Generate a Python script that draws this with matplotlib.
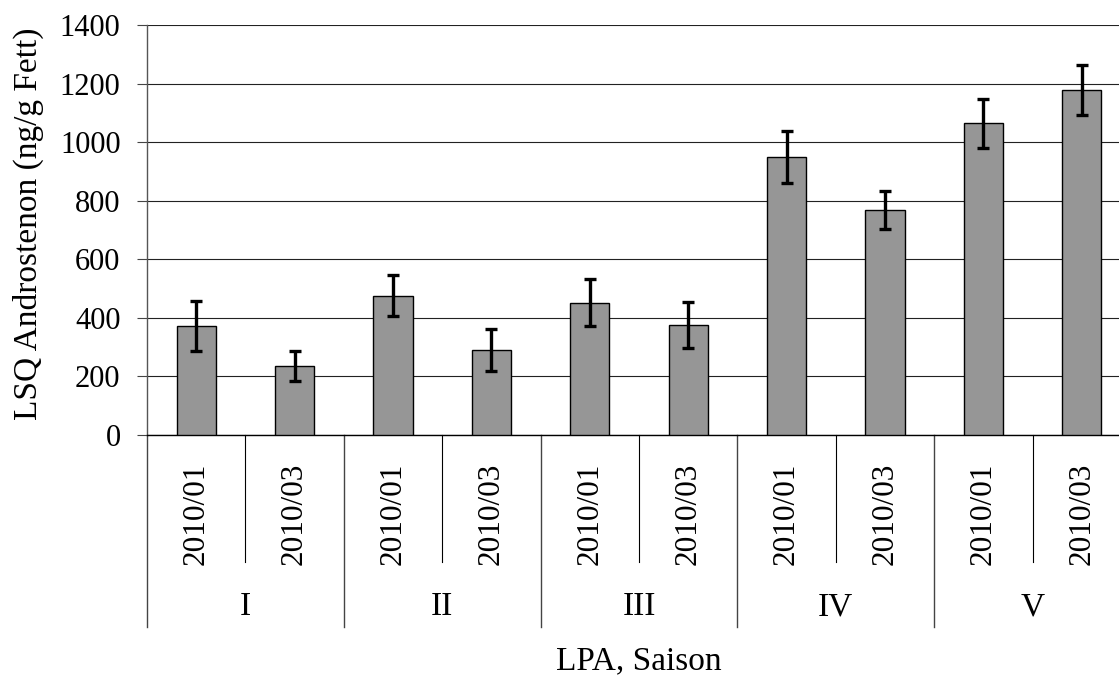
import numpy as np
import matplotlib.pyplot as plt
from matplotlib.transforms import blended_transform_factory

plt.rcParams['font.family'] = ['Liberation Serif', 'DejaVu Serif']

# LSQ values and standard errors per LPA and season
lpa = ["I", "II", "III", "IV", "V"]
saison = ["2010/01", "2010/03"]
lsq = [372, 237, 475, 290, 452, 375, 949, 767, 1064, 1178]
se = [84, 51, 70, 71, 81, 79, 90, 65, 85, 84]

W, H = 1119, 675
fig = plt.figure(figsize=(W / 100, H / 100), dpi=100)
# plot area runs a little past the right edge of the canvas
ax = fig.add_axes([147 / W, (H - 435) / H, 984 / W, 410 / H])

x = np.arange(len(lsq))
ax.bar(x, lsq, width=0.4, color='#969696', edgecolor='black', linewidth=1.0, zorder=3)
ax.errorbar(x, lsq, yerr=se, fmt='none', ecolor='black', elinewidth=2.4,
            capsize=4, capthick=2.4, zorder=4)

ax.set_xlim(-0.5, len(lsq) - 0.5)
ax.set_ylim(0, 1400)
ax.set_yticks(np.arange(0, 1401, 200))
ax.yaxis.grid(True, color='#222222', linewidth=0.8, zorder=0)
ax.tick_params(axis='y', direction='out', length=7, width=0.8, color='#444444',
               labelsize=22, pad=12)
ax.set_xticks([])
for s in ['top', 'right']:
    ax.spines[s].set_visible(False)
ax.spines['left'].set_color('#555555')
ax.spines['left'].set_linewidth(1.0)
ax.spines['bottom'].set_color('black')
ax.spines['bottom'].set_linewidth(1.0)

# two-level category axis below the plot
tr = blended_transform_factory(ax.transData, ax.transAxes)
px = 1 / 410.0
for i in range(len(lpa)):
    left = 2 * i - 0.5
    ax.plot([left, left], [0, -192 * px], transform=tr, color='#444444',
            linewidth=1.0, clip_on=False)
    ax.plot([left + 1, left + 1], [0, -127 * px], transform=tr, color='black',
            linewidth=0.8, clip_on=False)
    for j, s in enumerate(saison):
        ax.text(2 * i + j, -79 * px, s, transform=tr, rotation=90, ha='center',
                va='center', fontsize=22.5)
    ax.text(2 * i + 0.5, -172 * px, lpa[i], transform=tr, ha='center',
            va='center', fontsize=24)
ax.plot([len(lsq) - 0.5] * 2, [0, -192 * px], transform=tr, color='#444444',
        linewidth=1.0, clip_on=False)

fig.text(639 / W, 1 - 661 / H, "LPA, Saison", ha='center', va='center', fontsize=24)
fig.text(28 / W, 1 - 224 / H, "LSQ Androstenon (ng/g Fett)", ha='center',
         va='center', rotation=90, fontsize=24)

fig.savefig("out.png", dpi=100)
